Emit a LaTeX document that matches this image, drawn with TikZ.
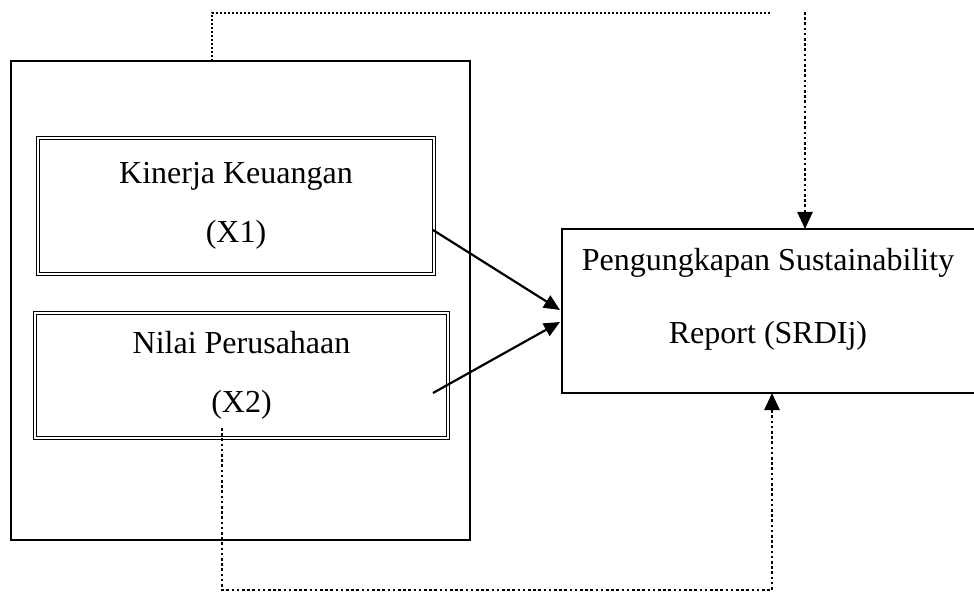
\documentclass[tikz,border=0pt]{standalone}
\usepackage{fontspec}
\setmainfont{Liberation Serif}
\usetikzlibrary{arrows.meta, calc}

\begin{document}
\begin{tikzpicture}[
    x=0.5pt, y=-0.5pt,
    every node/.style={inner sep=0pt, outer sep=0pt},
    grpbox/.style={draw, line width=1.4pt},
    varbox/.style={draw, line width=0.8pt, double, double distance=0.6pt, align=center, font=\fontsize{16}{29.5}\selectfont},
    depbox/.style={draw, line width=1.4pt},
    solidarr/.style={-{Triangle[length=8pt, width=7pt]}, line width=1.1pt},
    finedot/.style={line width=0.9pt, dash pattern=on 0.9pt off 1.1pt},
    boldot/.style={line width=1.3pt, dash pattern=on 1.3pt off 1.3pt},
    dotarr/.style={boldot, -{Triangle[length=8.5pt, width=7.5pt]}},
  ]
  \useasboundingbox (0,0) rectangle (974,593);
  \clip (0,0) rectangle (974,593);

  % independent variables
  \node[grpbox, minimum width=229.5pt, minimum height=239.5pt] (grp) at (240.5,300.5) {};
  \node[varbox, minimum width=198pt, minimum height=68pt] (kinerja) at (236,206) {Kinerja Keuangan\\(X1)};
  \node[varbox, minimum width=206.5pt, minimum height=62.5pt] (nilai) at (241.5,375.5) {Nilai Perusahaan\\(X2)};

  % dependent variable
  \node[depbox, minimum width=208pt, minimum height=82pt] (srdi) at (770,311) {};
  \node[align=center, font=\fontsize{16}{36.5}\selectfont] (srditxt) at (768,299) {Pengungkapan Sustainability\\Report (SRDIj)};

  % direct effects
  \draw[solidarr] ($(kinerja.east)+(-1,24)$) -- ($(srdi.west)+(-2,-1)$);
  \draw[solidarr] ($(nilai.east)+(-15,17.5)$) -- ($(srdi.west)+(-2,11)$);

  % dotted links
  \coordinate (topturn) at (770,13);
  \draw[finedot] ($(grp.north west)+(201,0)$) |- (topturn);
  \coordinate (topdrop) at (805,12);
  \draw[dotarr] (topdrop) -- (topdrop |- srdi.north);
  \coordinate (lowturn) at (772,590);
  \draw[dotarr] ($(nilai.south)+(-19.5,-10)$) |- (lowturn) -- (lowturn |- srdi.south);
\end{tikzpicture}
\end{document}
